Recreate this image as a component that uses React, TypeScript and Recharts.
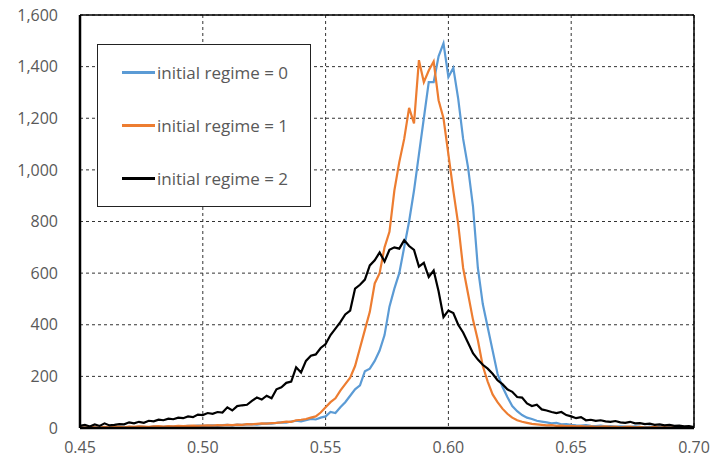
import React from 'react';
import { LineChart, Line, XAxis, YAxis, CartesianGrid, ReferenceLine } from 'recharts';

// share values sampled every 0.002 from 0.450 to 0.700
const X_START = 0.45;
const X_STEP = 0.002;

const regime0 = [
  2, 1, 3, 2, 1, 3, 2, 4, 3, 2, 4, 3, 5, 4, 3, 6, 5, 4, 6, 5, 7, 6, 8, 7, 9, 8,
  9, 10, 8, 11, 12, 10, 13, 12, 14, 15, 13, 16, 18, 17, 20,
  22, 21, 25, 28, 26, 30, 35, 33, 40, 45, 62, 58, 80, 100, 125, 150, 165, 220, 230,
  260, 300, 360, 470, 540, 600, 700, 800, 920, 1060, 1200, 1340, 1340, 1440, 1490,
  1360, 1395, 1275, 1120, 1010, 860, 620, 480, 390, 300, 210, 160, 120, 85, 65,
  50, 40, 35, 28, 25, 22, 18, 20, 14, 15, 12,
  10, 9, 11, 8, 7, 9, 6, 7, 5, 6, 5, 4, 6, 4, 3, 5, 3, 4, 2, 3, 2, 3, 2, 1, 2,
];

const regime1 = [
  3, 2, 4, 3, 2, 4, 3, 5, 4, 3, 5, 4, 6, 5, 4, 6, 7, 5, 7, 6, 8, 7, 8, 9, 8, 9,
  10, 9, 11, 10, 12, 11, 13, 12, 15, 14, 16, 18, 17, 19, 20,
  22, 25, 24, 30, 32, 35, 40, 45, 60, 80, 100, 115, 145, 170, 195, 240, 310, 380, 450,
  560, 600, 700, 760, 920, 1030, 1120, 1240, 1180, 1425, 1340, 1385, 1420, 1270, 1200,
  1060, 920, 790, 620, 520, 420, 340, 240, 180, 130, 100, 75, 55, 40, 30,
  24, 20, 16, 14, 12, 10, 11, 8, 9, 7, 8,
  6, 7, 5, 6, 4, 5, 6, 4, 5, 3, 4, 5, 3, 4, 2, 3, 4, 2, 3, 2, 3, 1, 2, 2, 1,
];

const regime2 = [
  8, 12, 6, 14, 8, 18, 10, 12, 15, 14, 22, 18, 24, 20, 28, 26, 32, 30, 36, 34, 40, 38, 45, 42, 52, 50,
  58, 55, 62, 60, 80, 68, 85, 88, 90, 105, 118, 110, 125, 115, 150,
  158, 175, 180, 235, 215, 260, 280, 285, 310, 325, 360, 385, 410, 440, 455, 540, 555, 575, 630,
  650, 680, 645, 690, 700, 695, 728, 705, 690, 625, 640, 585, 610, 530, 430,
  455, 445, 400, 370, 330, 290, 265, 245, 230, 210, 185, 170, 150, 140, 120,
  118, 95, 85, 90, 72, 68, 62, 58, 62, 50, 45,
  38, 42, 30, 32, 28, 30, 26, 24, 27, 22, 20, 24, 18, 19, 15, 17, 12, 14, 10, 12, 8, 9, 6, 7, 4,
];

const xTicks = [0.45, 0.5, 0.55, 0.6, 0.65, 0.7];
const yTicks = [0, 200, 400, 600, 800, 1000, 1200, 1400, 1600];

const series = [
  { key: 'r0', name: 'initial regime = 0', color: '#5B9BD5', values: regime0 },
  { key: 'r1', name: 'initial regime = 1', color: '#ED7D31', values: regime1 },
  { key: 'r2', name: 'initial regime = 2', color: '#000000', values: regime2 },
];

const data = regime0.map((_, i) => ({
  x: +(X_START + i * X_STEP).toFixed(3),
  r0: regime0[i],
  r1: regime1[i],
  r2: regime2[i],
}));

const FONT = '"Open Sans", sans-serif';

// drawn over the plot, same as the boxed legend in the original
function LegendBox() {
  return (
    <div
      style={{
        position: 'absolute',
        left: 97,
        top: 44,
        width: 214,
        height: 163,
        border: '1.5px solid #222',
        background: '#fff',
        boxSizing: 'border-box',
        paddingTop: 1,
      }}
    >
      {series.map((s) => (
        <div key={s.key} style={{ display: 'flex', alignItems: 'center', height: 53 }}>
          <div style={{ width: 33, height: 3, background: s.color, marginLeft: 24 }} />
          <span style={{ marginLeft: 2, fontFamily: FONT, fontSize: 17, color: '#595959' }}>{s.name}</span>
        </div>
      ))}
    </div>
  );
}

export default function App() {
  return (
    <div style={{ position: 'absolute', left: 0, top: 0, width: 713, height: 471 }}>
      <LineChart
        width={713}
        height={471}
        data={data}
        margin={{ top: 15, right: 19, bottom: 13, left: 20 }}
      >
        <CartesianGrid stroke="#333" strokeDasharray="3 3" strokeWidth={1} />
        <XAxis
          dataKey="x"
          type="number"
          domain={[0.45, 0.7]}
          ticks={xTicks}
          tickFormatter={(v: number) => v.toFixed(2)}
          axisLine={{ stroke: '#000', strokeWidth: 2.5 }}
          tickLine={false}
          tickSize={0}
          tickMargin={14}
          height={30}
          tick={{ fill: '#595959', fontSize: 16, fontFamily: FONT }}
        />
        <YAxis
          type="number"
          domain={[0, 1600]}
          ticks={yTicks}
          tickFormatter={(v: number) => v.toLocaleString('en-US')}
          axisLine={{ stroke: '#000', strokeWidth: 2.5 }}
          tickLine={false}
          tickSize={0}
          tickMargin={22}
          width={60}
          tick={{ fill: '#595959', fontSize: 16, fontFamily: FONT }}
        />
        <ReferenceLine x={0.7} stroke="#000" strokeWidth={1.5} />
        <ReferenceLine y={1600} stroke="#000" strokeWidth={1.5} />
        {series.map((s) => (
          <Line
            key={s.key}
            dataKey={s.key}
            name={s.name}
            stroke={s.color}
            strokeWidth={2.2}
            dot={false}
            isAnimationActive={false}
          />
        ))}
      </LineChart>
      <LegendBox />
    </div>
  );
}
